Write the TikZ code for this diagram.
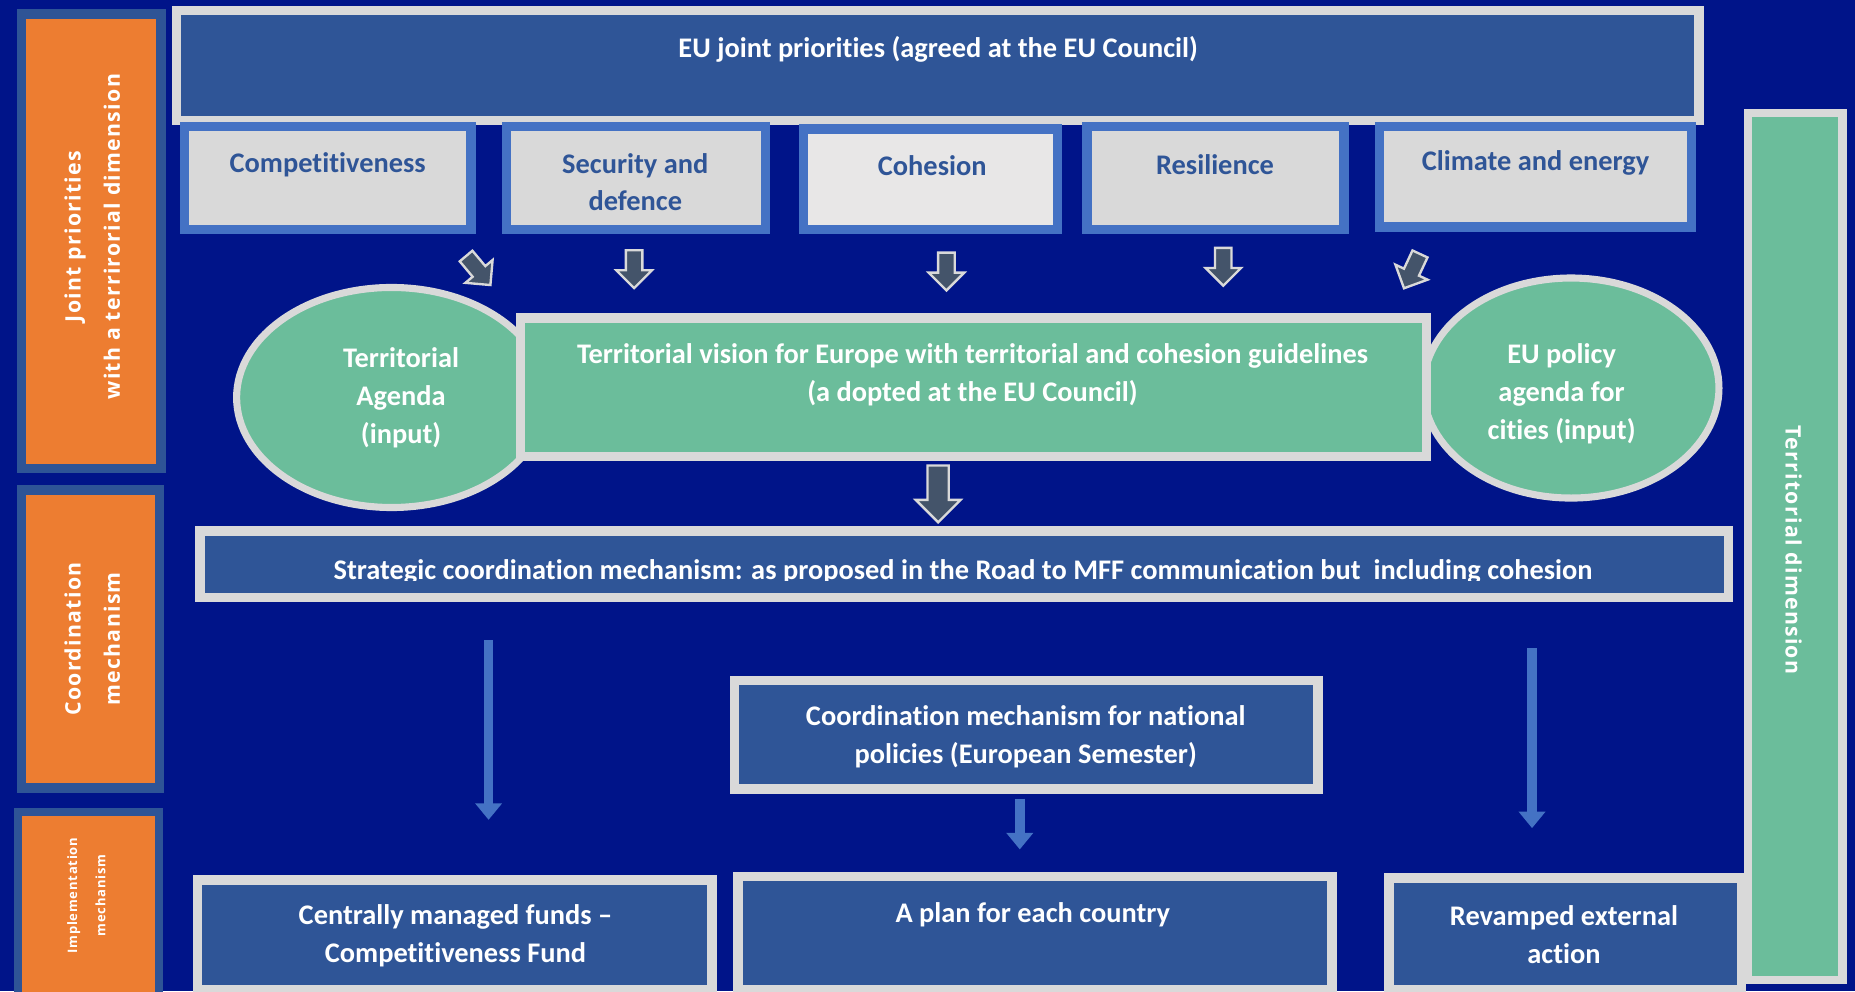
\documentclass[tikz,border=0pt]{standalone}
\usepackage{fontspec}
\setmainfont{Carlito}[Ligatures={NoCommon}]
\newfontfamily\osans{Open Sans}[LetterSpace=6]
\usetikzlibrary{shapes.arrows,arrows.meta}
\definecolor{bgnavy}{RGB}{0,20,137}
\definecolor{dblue}{RGB}{47,85,151}
\definecolor{mblue}{RGB}{68,114,196}
\definecolor{lgray}{RGB}{217,217,217}
\definecolor{lgraytwo}{RGB}{232,231,231}
\definecolor{tgreen}{RGB}{107,189,155}
\definecolor{orng}{RGB}{237,125,49}
\definecolor{slate}{RGB}{68,84,106}
\definecolor{obord}{RGB}{46,84,150}
\newcommand\mybox[7]{\fill[#5] (#1,#2) rectangle (#3,#4); \fill[#6] (#1+#7,#2+#7) rectangle (#3-#7,#4-#7);}
\begin{document}
\begin{tikzpicture}[x=0.5pt,y=-0.5pt,
  lbl/.style={font=\bfseries\fontsize{12}{16}\selectfont, text=white, align=center, inner sep=0pt},
  plbl/.style={lbl, text=dblue},
  rlbl/.style={font=\osans\bfseries\fontsize{9}{16.5}\selectfont, text=white, align=center, inner sep=0pt},
  sarrow/.style={single arrow, draw=lgray, fill=slate, line width=1pt, inner sep=0pt, inner ysep=3pt,
    minimum height=16pt, single arrow head extend=4pt, single arrow tip angle=90},
  barrow/.style={draw=mblue, line width=4pt, -{Triangle[width=11pt,length=7pt]}}]
\fill[bgnavy] (0,0) rectangle (1568,838);
\useasboundingbox (0,0) rectangle (1568,838);
% left label boxes
\mybox{14}{8}{140}{400}{obord}{orng}{8}
\mybox{14}{410}{139}{670}{obord}{orng}{8}
\mybox{12}{683}{138}{850}{obord}{orng}{7}
% top box
\mybox{145}{5}{1440}{106}{lgray}{dblue}{8}
% priority boxes
\mybox{152}{103}{402}{198}{mblue}{lgray}{8}
\mybox{424}{103}{651}{198}{mblue}{lgray}{8}
\mybox{675}{105}{898}{198}{mblue}{lgraytwo}{8}
\mybox{915}{103}{1140}{198}{mblue}{lgray}{8}
\mybox{1162}{103}{1434}{196}{mblue}{lgray}{8}
% territorial dimension bar
\mybox{1474}{92}{1561}{832}{lgray}{tgreen}{7}
% ellipses and vision box
\draw[lgray, line width=3pt, fill=tgreen] (331,336) ellipse [x radius=131, y radius=93];
\draw[lgray, line width=3pt, fill=tgreen] (1328,328) ellipse [x radius=125, y radius=93];
\mybox{436}{265}{1210}{390}{lgray}{tgreen}{8}
% strategic box
\mybox{165}{445}{1465}{509}{lgray}{dblue}{8}
% coordination box
\mybox{617}{571}{1118}{671}{lgray}{dblue}{8}
% bottom boxes
\mybox{163}{740}{606}{841}{lgray}{dblue}{8}
\mybox{620}{737}{1130}{841}{lgray}{dblue}{8}
\mybox{1170}{738}{1476}{841}{lgray}{dblue}{8}
% texts
\node[lbl] (top) at (793,42) {EU joint priorities (agreed at the EU Council)};
\node[plbl] (p1) at (277,139) {Competitiveness};
\node[plbl] (p2) at (537,154) {Security and\\defence};
\node[plbl] (p3) at (788,140) {Cohesion};
\node[plbl] (p4) at (1027,139) {Resilience};
\node[plbl] (p5) at (1298,138) {Climate and energy};
\node[lbl] (ta) at (339,336) {Territorial\\Agenda\\(input)};
\node[lbl] (tv) at (822,317) {Territorial vision for Europe with territorial and cohesion guidelines\\(a dopted at the EU Council)};
\node[lbl] (ep) at (1320,333) {EU policy\\agenda for\\cities (input)};
\begin{scope}
\clip (173,453) rectangle (1457,491);
\node[lbl, anchor=base] (strat) at (814,490) {Strategic coordination mechanism: as proposed in the Road to MFF communication but\ \ including cohesion};
\end{scope}
\node[lbl] (cm) at (867,623) {Coordination mechanism for national\\policies (European Semester)};
\node[lbl] (cf) at (385,791) {Centrally managed funds –\\Competitiveness Fund};
\node[lbl] (pc) at (873,773) {A plan for each country};
\node[lbl] (re) at (1322,790) {Revamped external\\action};
\node[rlbl, rotate=90] (l1) at (78,200) {Joint priorities\\with a terrirorial dimension};
\node[rlbl, rotate=90] (l2) at (78,540) {Coordination\\mechanism};
\node[rlbl, rotate=90, font=\osans\bfseries\fontsize{5.5}{12}\selectfont] (l3) at (73,757) {Implementation\\mechanism};
\node[rlbl, rotate=-90] (td) at (1516,465) {Territorial dimension};
% block arrows
\node[sarrow, rotate=-50] (a1) at (402,226) {};
\node[sarrow, rotate=-90] (a2) at (536,224) {};
\node[sarrow, rotate=-90] (a3) at (800,226) {};
\node[sarrow, rotate=-90] (a4) at (1034,222) {};
\node[sarrow, rotate=-115] (a5) at (1195,226) {};
\node[sarrow, inner ysep=4pt, minimum height=24pt, single arrow head extend=5pt, rotate=-90] (a6) at (793,413) {};
% blue arrows
\coordinate (b1s) at (413,541); \coordinate (b1e) at (413,693);
\coordinate (b2s) at (862,675); \coordinate (b2e) at (862,718);
\coordinate (b3s) at (1295,548); \coordinate (b3e) at (1295,700);
\draw[barrow] (b1s) -- (b1e);
\draw[barrow] (b2s) -- (b2e);
\draw[barrow] (b3s) -- (b3e);
\end{tikzpicture}
\end{document}
